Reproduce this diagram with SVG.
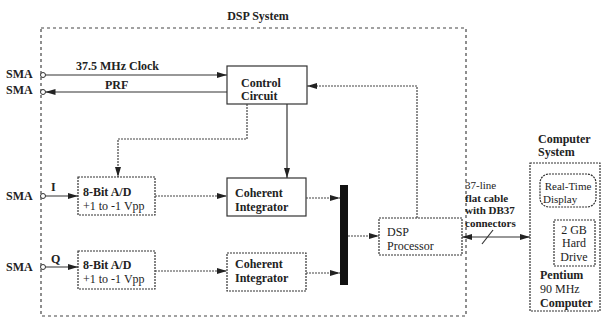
<svg xmlns="http://www.w3.org/2000/svg" width="602" height="324" viewBox="0 0 602 324">
<defs>
<marker id="ah" viewBox="0 0 10 6" refX="10" refY="3" markerWidth="10" markerHeight="6" markerUnits="userSpaceOnUse" orient="auto-start-reverse">
<path d="M0,0 L10,3 L0,6 z" fill="#222"/>
</marker>
<style>
text{font-family:"Liberation Serif","Times New Roman",serif;fill:#222;font-size:12px}
.b{font-weight:bold}
.s{font-size:11px}
.box{fill:none;stroke:#333;stroke-width:1.2}
.dbox{fill:none;stroke:#333;stroke-width:1.2;stroke-dasharray:2 1}
.ln{fill:none;stroke:#333;stroke-width:1.2}
.dl{fill:none;stroke:#444;stroke-width:1.2;stroke-dasharray:2 1}
.bd{fill:none;stroke:#444;stroke-width:1.2;stroke-dasharray:3 3}
.port{fill:#fff;stroke:#333;stroke-width:1}
</style>
</defs>
<rect id="boundary" x="41" y="28" width="425" height="288" class="bd"/>
<text class="b" x="258" y="20" text-anchor="middle" font-size="13">DSP System</text>

<g id="sma1"><text class="b" x="6" y="78">SMA</text><circle class="port" cx="43" cy="75" r="2.5"/></g>
<g id="sma2"><text class="b" x="6" y="94">SMA</text><circle class="port" cx="43" cy="92" r="2.5"/></g>
<g id="sma3"><text class="b" x="6" y="200">SMA</text><circle class="port" cx="43" cy="196" r="2.5"/></g>
<g id="sma4"><text class="b" x="6" y="271">SMA</text><circle class="port" cx="43" cy="267" r="2.5"/></g>

<g id="control"><rect class="box" x="227" y="66" width="80" height="38"/><text class="b" x="241" y="87">Control</text><text class="b" x="241" y="100">Circuit</text></g>
<g id="ad_i"><rect class="dbox" x="78" y="177" width="77" height="38"/><text class="b" x="83" y="196">8-Bit A/D</text><text x="83" y="210">+1 to -1 Vpp</text></g>
<g id="ad_q"><rect class="dbox" x="78" y="251" width="77" height="38"/><text class="b" x="83" y="269">8-Bit A/D</text><text x="83" y="283">+1 to -1 Vpp</text></g>
<g id="ci_i"><rect class="box" x="227" y="178" width="79" height="38"/><text class="b" x="235" y="197">Coherent</text><text class="b" x="235" y="211">Integrator</text></g>
<g id="ci_q"><rect class="dbox" x="227" y="253" width="79" height="38"/><text class="b" x="235" y="268">Coherent</text><text class="b" x="235" y="282">Integrator</text></g>
<g id="bus"><rect x="340" y="185" width="8" height="100" fill="#111"/></g>
<g id="dsp"><rect class="dbox" x="379" y="218" width="83" height="37"/><text x="387" y="236">DSP</text><text x="387" y="250">Processor</text></g>

<g id="computer"><text class="b" x="538" y="143">Computer</text><text class="b" x="538" y="156">System</text>
<rect class="dbox" x="530" y="163" width="70" height="148"/>
<text class="b" x="540" y="279">Pentium</text><text x="540" y="293">90 MHz</text><text class="b" x="540" y="307">Computer</text></g>
<g id="display"><rect class="dbox" x="540" y="174" width="56" height="33" rx="9"/><text class="s" x="568" y="190" text-anchor="middle">Real-Time</text><text class="s" x="543" y="203">Display</text></g>
<g id="drive"><rect class="dbox" x="554" y="220" width="41" height="46"/><text x="574" y="234" text-anchor="middle">2 GB</text><text x="574" y="247" text-anchor="middle">Hard</text><text x="574" y="261" text-anchor="middle">Drive</text></g>

<g id="connectors">
<line class="ln" x1="45.5" y1="75" x2="227" y2="75" marker-end="url(#ah)"/>
<text class="b" x="76" y="70">37.5 MHz Clock</text>
<line class="ln" x1="227" y1="92" x2="45.5" y2="92" marker-end="url(#ah)"/>
<text class="b" x="105" y="89">PRF</text>
<polyline class="dl" points="247,104 247,139 118,139 118,177" marker-end="url(#ah)"/>
<line class="ln" x1="287" y1="104" x2="287" y2="178" marker-end="url(#ah)"/>
<polyline class="dl" points="417,218 417,86 307,86" marker-end="url(#ah)"/>
<line class="ln" x1="45.5" y1="196" x2="78" y2="196" marker-end="url(#ah)"/>
<text class="b" x="51" y="191">I</text>
<line class="ln" x1="45.5" y1="267" x2="78" y2="267" marker-end="url(#ah)"/>
<text class="b" x="51" y="263">Q</text>
<line class="dl" x1="155" y1="196" x2="227" y2="196" marker-end="url(#ah)"/>
<line class="dl" x1="155" y1="271" x2="227" y2="271" marker-end="url(#ah)"/>
<line class="dl" x1="306" y1="198" x2="340" y2="198" marker-end="url(#ah)"/>
<line class="dl" x1="306" y1="273" x2="340" y2="273" marker-end="url(#ah)"/>
<line class="dl" x1="348" y1="236" x2="379" y2="236" marker-end="url(#ah)"/>
<line class="ln" x1="462" y1="237" x2="530" y2="237" stroke-width="1.6" marker-start="url(#ah)" marker-end="url(#ah)"/>
<line class="ln" x1="482" y1="244" x2="493" y2="230"/>
<text class="s" x="465" y="189">37-line</text>
<text class="b s" x="465" y="201.5">flat cable</text>
<text class="b s" x="465" y="214">with DB37</text>
<text class="b s" x="465" y="226.5">connectors</text>
</g>
</svg>
